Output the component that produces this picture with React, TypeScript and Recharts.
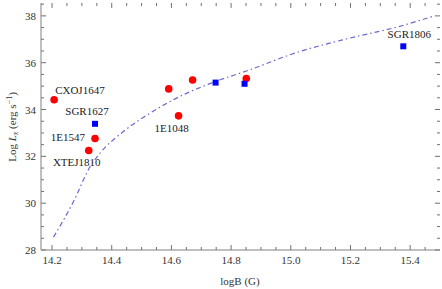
import { ComposedChart, Scatter, Line, XAxis, YAxis, ReferenceLine } from 'recharts';

// magnetars: red = one sample, blue = the other
const redNames = ['CXOJ1647', '1E1547', 'XTEJ1810', '', '1E1048', '', ''];
const redB = [14.207, 14.344, 14.323, 14.591, 14.624, 14.671, 14.851];
const redL = [34.42, 32.76, 32.25, 34.88, 33.73, 35.26, 35.32];

const blueNames = ['SGR1627', '', '', 'SGR1806'];
const blueB = [14.344, 14.748, 14.845, 15.377];
const blueL = [33.39, 35.15, 35.1, 36.7];

// model curve (dash-dot)
const curveB = [14.205, 14.272, 14.328, 14.361, 14.439, 14.528, 14.605, 14.717, 14.861, 15.028, 15.194, 15.361, 15.478];
const curveL = [28.55, 30.07, 31.57, 32.14, 33.06, 33.84, 34.41, 35.05, 35.69, 36.47, 37.04, 37.54, 37.99];

const xMajor = [14.2, 14.4, 14.6, 14.8, 15.0, 15.2, 15.4];
const xMajorLabels = ['14.2', '14.4', '14.6', '14.8', '15.0', '15.2', '15.4'];
const xTicks = [14.2, 14.25, 14.3, 14.35, 14.4, 14.45, 14.5, 14.55, 14.6, 14.65, 14.7, 14.75, 14.8, 14.85, 14.9, 14.95, 15.0, 15.05, 15.1, 15.15, 15.2, 15.25, 15.3, 15.35, 15.4, 15.45];
const yMajor = [28, 30, 32, 34, 36, 38];
const yMajorLabels = ['28', '30', '32', '34', '36', '38'];
const yTicks = [28, 28.5, 29, 29.5, 30, 30.5, 31, 31.5, 32, 32.5, 33, 33.5, 34, 34.5, 35, 35.5, 36, 36.5, 37, 37.5, 38, 38.5];

const red = redB.map((x, i) => ({ x, y: redL[i], name: redNames[i] }));
const blue = blueB.map((x, i) => ({ x, y: blueL[i], name: blueNames[i] }));
const curve = curveB.map((x, i) => ({ x, y: curveL[i] }));

const FONT = "'Liberation Serif', 'Times New Roman', serif";
const FRAME = '#808080';
const TICK = '#707070';
const TEXT = '#333';

const xDomain = [14.163, 15.5];
const yDomain = [28, 38.55];

// tick lengths in axis units (≈5px major, ≈3px minor)
const X_TICK_LEN = { major: 0.21, minor: 0.13 };
const Y_TICK_LEN = { major: 0.017, minor: 0.01 };

// where each point label sits, relative to the marker centre
const LABEL_POS: Record<string, { dx: number; dy: number; anchor: string }> = {
    CXOJ1647: { dx: 1, dy: -6, anchor: 'start' },
    SGR1627: { dx: -8, dy: -9, anchor: 'middle' },
    '1E1547': { dx: -10, dy: 2, anchor: 'end' },
    XTEJ1810: { dx: -12, dy: 16, anchor: 'middle' },
    '1E1048': { dx: -7, dy: 16, anchor: 'middle' },
    SGR1806: { dx: 6, dy: -8, anchor: 'middle' },
};

const idx = (list: number[], v: number) => list.findIndex(m => Math.abs(m - v) < 1e-6);

const PointLabel = ({ cx, cy, name }: any) => {
    const p = name ? LABEL_POS[name] : null;
    if (!p) return null;
    return (
        <text x={cx + p.dx} y={cy + p.dy} textAnchor={p.anchor as any} fontSize={11} fontFamily={FONT} fill="#222">
            {name}
        </text>
    );
};

const RedDot = (props: any) => (
    <g>
        <circle cx={props.cx} cy={props.cy} r={3.8} fill="#ff0000" />
        <PointLabel cx={props.cx} cy={props.cy} name={props.payload?.name} />
    </g>
);

const BlueSquare = (props: any) => (
    <g>
        <rect x={props.cx - 3} y={props.cy - 3} width={6} height={6} fill="#0000ff" />
        <PointLabel cx={props.cx} cy={props.cy} name={props.payload?.name} />
    </g>
);

const XTickLabel = (props: any) => {
    const { x, y, payload } = props;
    const i = idx(xMajor, payload.value);
    if (i < 0) return <g />;
    return (
        <text x={x} y={y + 14} textAnchor="middle" fontSize={11} fontFamily={FONT} fill={TEXT}>
            {xMajorLabels[i]}
        </text>
    );
};

const YTickLabel = (props: any) => {
    const { x, y, payload } = props;
    const i = idx(yMajor, payload.value);
    if (i < 0) return <g />;
    return (
        <text x={x - 5} y={y + 4} textAnchor="end" fontSize={11} fontFamily={FONT} fill={TEXT}>
            {yMajorLabels[i]}
        </text>
    );
};

const YLabel = () => (
    <text transform="rotate(-90, 12, 127)" x={12} y={131} textAnchor="middle" fontSize={11} fontFamily={FONT} fill={TEXT}>
        Log <tspan fontStyle="italic">L</tspan>
        <tspan fontStyle="italic" fontSize={8} dy={2}>x</tspan>
        <tspan dy={-2}> (erg s</tspan>
        <tspan fontSize={8} dy={-4}>−1</tspan>
        <tspan dy={4}>)</tspan>
    </text>
);

const XLabel = () => (
    <text x={240} y={285} textAnchor="middle" fontSize={11} fontFamily={FONT} fill={TEXT}>
        logB (G)
    </text>
);

// inward frame ticks on all four sides, Mathematica style
const frameTicks = () => {
    const out: any[] = [];
    xTicks.forEach((v, k) => {
        const len = idx(xMajor, v) >= 0 ? X_TICK_LEN.major : X_TICK_LEN.minor;
        out.push(<ReferenceLine key={`xb${k}`} xAxisId="b" yAxisId="l" ifOverflow="visible" stroke={TICK}
            segment={[{ x: v, y: yDomain[0] }, { x: v, y: yDomain[0] + len }]} />);
        out.push(<ReferenceLine key={`xt${k}`} xAxisId="b" yAxisId="l" ifOverflow="visible" stroke={TICK}
            segment={[{ x: v, y: yDomain[1] }, { x: v, y: yDomain[1] - len }]} />);
    });
    yTicks.forEach((v, k) => {
        const len = idx(yMajor, v) >= 0 ? Y_TICK_LEN.major : Y_TICK_LEN.minor;
        out.push(<ReferenceLine key={`yl${k}`} xAxisId="b" yAxisId="l" ifOverflow="visible" stroke={TICK}
            segment={[{ x: xDomain[0], y: v }, { x: xDomain[0] + len, y: v }]} />);
        out.push(<ReferenceLine key={`yr${k}`} xAxisId="b" yAxisId="l" ifOverflow="visible" stroke={TICK}
            segment={[{ x: xDomain[1], y: v }, { x: xDomain[1] - len, y: v }]} />);
    });
    return out;
};

export default function App() {
    return (
        <div style={{ position: 'absolute', left: 0, top: 0, width: 442, height: 289, background: '#fff' }}>
            <ComposedChart width={442} height={289} margin={{ top: 3, right: 2, bottom: 0, left: 0 }}>
                <XAxis xAxisId="b" dataKey="x" type="number" orientation="bottom" domain={xDomain} allowDataOverflow
                    ticks={xTicks} interval={0} height={39} tickSize={0} tickMargin={0} tickLine={false}
                    stroke={FRAME} tick={<XTickLabel />} label={<XLabel />} />
                <XAxis xAxisId="t" dataKey="x" type="number" orientation="top" domain={xDomain} allowDataOverflow
                    height={0} tick={false} tickLine={false} stroke={FRAME} />
                <YAxis yAxisId="l" dataKey="y" type="number" orientation="left" domain={yDomain} allowDataOverflow
                    ticks={yTicks} interval={0} width={41} tickSize={0} tickMargin={0} tickLine={false}
                    stroke={FRAME} tick={<YTickLabel />} label={<YLabel />} />
                <YAxis yAxisId="r" dataKey="y" type="number" orientation="right" domain={yDomain} allowDataOverflow
                    width={0} tick={false} tickLine={false} stroke={FRAME} />
                {frameTicks()}
                <Line xAxisId="b" yAxisId="l" data={curve} dataKey="y" type="monotone" stroke="#6a6acf"
                    strokeWidth={1.2} strokeDasharray="5 3 1.5 3" dot={false} activeDot={false} isAnimationActive={false} />
                <Scatter xAxisId="b" yAxisId="l" data={red} dataKey="y" shape={<RedDot />} isAnimationActive={false} />
                <Scatter xAxisId="b" yAxisId="l" data={blue} dataKey="y" shape={<BlueSquare />} isAnimationActive={false} />
            </ComposedChart>
        </div>
    );
}
